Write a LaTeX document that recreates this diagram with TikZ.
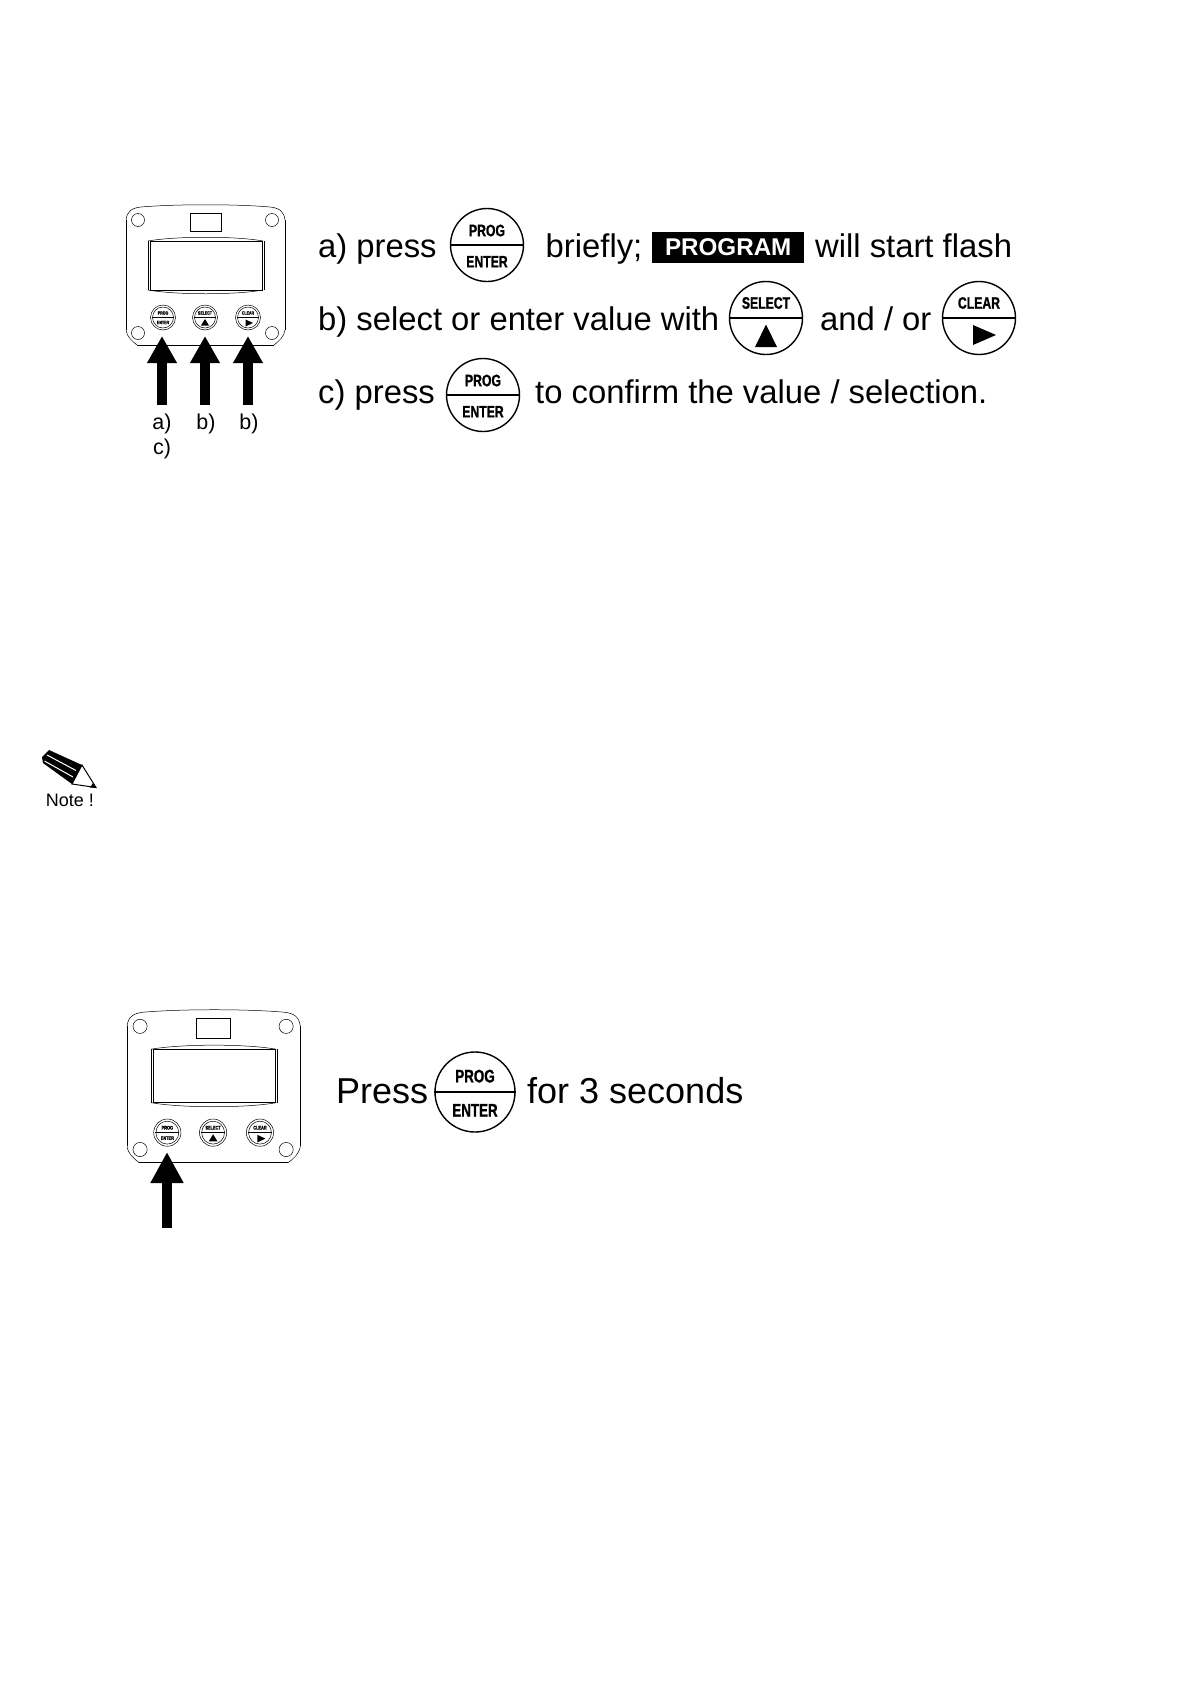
\documentclass[tikz,border=0pt]{standalone}
\usepackage{fontspec}
\setmainfont{Liberation Sans}
\newfontfamily\btnfont[FakeStretch=0.74,FakeBold=1.2]{Liberation Sans Bold}
\usetikzlibrary{arrows.meta}
\definecolor{thin}{gray}{0.55}
\tikzset{
  x=1pt,y=-1pt,
  lbl/.style={anchor=base west,inner sep=0pt,font=\fontsize{32.8}{32.8}\selectfont},
  lblbig/.style={anchor=base west,inner sep=0pt,font=\fontsize{36}{36}\selectfont},
  small/.style={anchor=base,inner sep=0pt,font=\fontsize{21.5}{21.5}\selectfont},
  btntext/.style={inner sep=0pt,transform shape,font=\btnfont\fontsize{16.5}{16.5}\selectfont},
  ring/.style={circle,draw=black,line width=1.4pt,minimum size=73pt,inner sep=0pt,transform shape},
  bigarrow/.style={line width=9.5pt,-{Triangle[length=27pt,width=28pt]}},
  tinytext/.style={inner sep=0pt,transform shape,font=\btnfont\fontsize{4.8}{4.8}\selectfont},
  pics/progbtn/.style={code={
    \node[ring] (-c) at (0,0) {};
    \draw[line width=1.4pt] (-c.west) -- (-c.east);
    \node[btntext] (-t) at (0,-14.5) {PROG};
    \node[btntext] (-b) at (0,16.7) {ENTER};
  }},
  pics/selbtn/.style={code={
    \node[ring] (-c) at (0,0) {};
    \draw[line width=1.4pt] (-c.west) -- (-c.east);
    \node[btntext] (-t) at (0,-15) {SELECT};
    \fill (-11,29) -- (11,29) -- (0,6.5) -- cycle;
  }},
  pics/clrbtn/.style={code={
    \node[ring] (-c) at (0,0) {};
    \draw[line width=1.4pt] (-c.west) -- (-c.east);
    \node[btntext] (-t) at (0,-15) {CLEAR};
    \fill (-6,7) -- (-6,27) -- (17,17) -- cycle;
  }},
  pics/device/.style={code={
    % outline (local origin = left end of top edge)
    \draw[thin,line width=0.5pt] (0,15) .. controls (1,6) and (6,3) .. (15,2) .. controls (50,-1) and (110,-1) .. (144,2) .. controls (153,3) and (158,6) .. (159,15);
    \draw[line width=0.9pt] (0,15) -- (0,125);
    \draw[thin,line width=0.5pt] (0,125) .. controls (1,132) and (6,136) .. (11,140);
    \draw[line width=1pt] (11,140) -- (148,140);
    \draw[thin,line width=0.5pt] (148,140) .. controls (153,136) and (158,132) .. (159,125);
    \draw[line width=0.9pt] (159,125) -- (159,15);
    \draw[line width=1pt] (64,8) rectangle (95,26);
    \draw[thin,line width=0.5pt] (22,36) .. controls (50,31) and (110,31) .. (137,36);
    \draw[thin,line width=0.5pt] (22,85) .. controls (50,90) and (110,90) .. (137,85);
    \draw[line width=1pt] (24,36) rectangle (136,85);
    \draw[line width=0.7pt] (22,36) -- (22,85) (138,36) -- (138,85);
    \foreach \px/\py in {12/15,146/15,12/128,146/128}
      \draw[thin,line width=0.5pt] (\px,\py) circle[radius=6.5];
    \foreach \bx/\ta in {37/PROG,79/SELECT,122/CLEAR}{
      \draw[thin,line width=0.5pt] (\bx,112.5) circle[radius=12.5];
      \draw[thin,line width=0.5pt] (\bx,112.5) circle[radius=10.5];
      \draw[line width=0.9pt] (\bx-11,112.5) -- (\bx+11,112.5);
      \node[tinytext] at (\bx,108) {\ta};
    }
    \node[tinytext] at (37,117.5) {ENTER};
    \fill (79-4,120.5) -- (79+4,120.5) -- (79,114) -- cycle;
    \fill (122-2.5,114.5) -- (122-2.5,121.5) -- (122+5,118) -- cycle;
  }},
}
\begin{document}
\begin{tikzpicture}
\useasboundingbox (0,0) rectangle (1190,1684);
\fill[white] (0,0) rectangle (1190,1684);
% first device
\pic (d1) at (126,205) {device};
\coordinate (a1s) at (162,405); \coordinate (a1t) at (162,336);
\coordinate (a2s) at (205,405); \coordinate (a2t) at (205,336);
\coordinate (a3s) at (248,405); \coordinate (a3t) at (248,336);
\draw[bigarrow] (a1s) -- (a1t);
\draw[bigarrow] (a2s) -- (a2t);
\draw[bigarrow] (a3s) -- (a3t);
\node[small] (la) at (162,429) {a)};
\node[small] (lb1) at (206,429) {b)};
\node[small] (lb2) at (249,429) {b)};
\node[small] (lc) at (162,454) {c)};
% instructions
\node[lbl] (t1) at (318,257) {a) press};
\pic (p1) at (487,245) {progbtn};
\node[lbl] (t2) at (545.5,257) {briefly;};
\node[fill=black,text=white,anchor=west,inner sep=0pt,minimum width=152pt,minimum height=31pt,font=\bfseries\fontsize{24.2}{24.2}\selectfont] (prog) at (652,247.5) {PROGRAM};
\node[lbl] (t3) at (815,257) {will start flash};
\node[lbl] (t4) at (318,330) {b) select or enter value with};
\pic (p2) at (766,318) {selbtn};
\node[lbl] (t5) at (820,330) {and / or};
\pic (p3) at (979,318) {clrbtn};
\node[lbl] (t6) at (318,403) {c) press};
\pic (p4) at (483,395) {progbtn};
\node[lbl] (t7) at (535,403) {to confirm the value / selection.};
% note
\fill (49,750) -- (82,765) -- (72,784) -- (43,763) -- (42,757) -- cycle;
\draw[white,line width=1pt] (47,755) -- (76,770.5);
\draw[white,line width=1pt] (44.5,761) -- (73,777);
\filldraw[fill=white,draw=black,line width=1pt] (82,765) -- (96,787.5) -- (72,784) -- cycle;
\fill (96.5,788) -- (90,787.5) -- (93,783) -- cycle;
\node[anchor=base,inner sep=0pt,font=\fontsize{18}{18}\selectfont] (note) at (70,806) {Note !};
% second device
\pic[scale=1.09] (d2) at (127,1010) {device};
\coordinate (a4s) at (167,1228); \coordinate (a4t) at (167,1152);
\draw[bigarrow,line width=10.5pt,-{Triangle[length=31pt,width=31pt]}] (a4s) -- (a4t);
\node[lblbig] (t8) at (336,1103) {Press};
\pic[scale=1.096] (p5) at (475,1092) {progbtn};
\node[lblbig] (t9) at (527,1103) {for 3 seconds};
\end{tikzpicture}
\end{document}
